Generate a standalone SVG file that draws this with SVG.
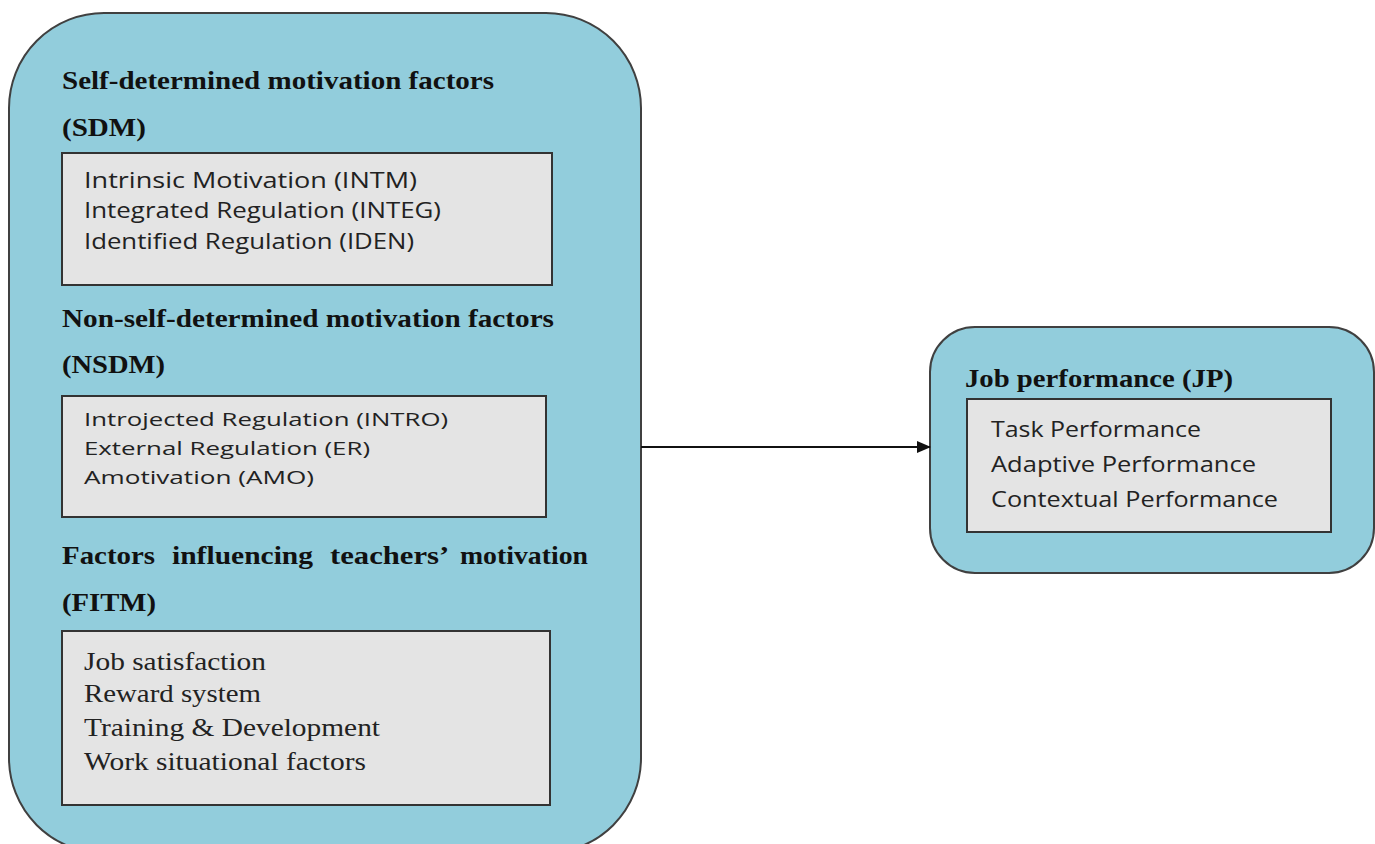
<svg xmlns="http://www.w3.org/2000/svg" width="1375" height="844" viewBox="0 0 1375 844">
<defs>
<style>
.outer{fill:#92CDDC;stroke:#404040;stroke-width:2}
.inner{fill:#E4E4E4;stroke:#333;stroke-width:2}
.hd{font-family:"Liberation Serif",serif;font-weight:bold;font-size:26px;fill:#111}
.sn{font-family:"Open Sans","Liberation Sans",sans-serif;font-size:22px;fill:#222}
.sm{font-family:"Open Sans","Liberation Sans",sans-serif;font-size:18px;fill:#222}
.sr{font-family:"Liberation Serif",serif;font-size:26px;fill:#222}
</style>
<marker id="ah" markerWidth="14" markerHeight="14" refX="13" refY="7" orient="auto" markerUnits="userSpaceOnUse">
<path d="M0,1 L14,7 L0,13 z" fill="#111"/>
</marker>
</defs>
<g id="left-node">
<rect class="outer" x="9" y="13" width="632" height="840" rx="95" ry="95"/>
<text class="hd" x="62" y="89" textLength="432" lengthAdjust="spacingAndGlyphs">Self-determined motivation factors</text>
<text class="hd" x="62" y="136" textLength="84" lengthAdjust="spacingAndGlyphs">(SDM)</text>
<rect class="inner" x="62" y="153" width="490" height="132"/>
<text class="sn" x="84" y="188" textLength="333" lengthAdjust="spacingAndGlyphs">Intrinsic Motivation (INTM)</text>
<text class="sn" x="84" y="218" textLength="357" lengthAdjust="spacingAndGlyphs">Integrated Regulation (INTEG)</text>
<text class="sn" x="84" y="249" textLength="330" lengthAdjust="spacingAndGlyphs">Identified Regulation (IDEN)</text>
<text class="hd" x="62" y="327" textLength="492" lengthAdjust="spacingAndGlyphs">Non-self-determined motivation factors</text>
<text class="hd" x="62" y="373" textLength="103" lengthAdjust="spacingAndGlyphs">(NSDM)</text>
<rect class="inner" x="62" y="396" width="484" height="121"/>
<text class="sm" x="84" y="426" textLength="364" lengthAdjust="spacingAndGlyphs">Introjected Regulation (INTRO)</text>
<text class="sm" x="84" y="455" textLength="286" lengthAdjust="spacingAndGlyphs">External Regulation (ER)</text>
<text class="sm" x="84" y="484" textLength="230" lengthAdjust="spacingAndGlyphs">Amotivation (AMO)</text>
<text class="hd" y="564"><tspan x="62" textLength="93" lengthAdjust="spacingAndGlyphs">Factors</tspan> <tspan x="172" textLength="141" lengthAdjust="spacingAndGlyphs">influencing</tspan> <tspan x="330" textLength="117" lengthAdjust="spacingAndGlyphs">teachers’</tspan> <tspan x="460" textLength="128" lengthAdjust="spacingAndGlyphs">motivation</tspan></text>
<text class="hd" x="62" y="611" textLength="94" lengthAdjust="spacingAndGlyphs">(FITM)</text>
<rect class="inner" x="62" y="631" width="488" height="174"/>
<text class="sr" x="84" y="670" textLength="182" lengthAdjust="spacingAndGlyphs">Job satisfaction</text>
<text class="sr" x="84" y="702" textLength="177" lengthAdjust="spacingAndGlyphs">Reward system</text>
<text class="sr" x="84" y="736" textLength="296" lengthAdjust="spacingAndGlyphs">Training &amp; Development</text>
<text class="sr" x="84" y="770" textLength="282" lengthAdjust="spacingAndGlyphs">Work situational factors</text>
</g>
<g id="jp-node">
<rect class="outer" x="930" y="327" width="444" height="246" rx="45" ry="45"/>
<text class="hd" x="965" y="387" textLength="268" lengthAdjust="spacingAndGlyphs">Job performance (JP)</text>
<rect class="inner" x="967" y="399" width="364" height="133"/>
<text class="sn" x="991" y="437" textLength="210" lengthAdjust="spacingAndGlyphs">Task Performance</text>
<text class="sn" x="991" y="472" textLength="265" lengthAdjust="spacingAndGlyphs">Adaptive Performance</text>
<text class="sn" x="991" y="507" textLength="287" lengthAdjust="spacingAndGlyphs">Contextual Performance</text>
</g>
<g id="connectors">
<line x1="641" y1="447" x2="930" y2="447" stroke="#111" stroke-width="2" marker-end="url(#ah)"/>
</g>
</svg>
